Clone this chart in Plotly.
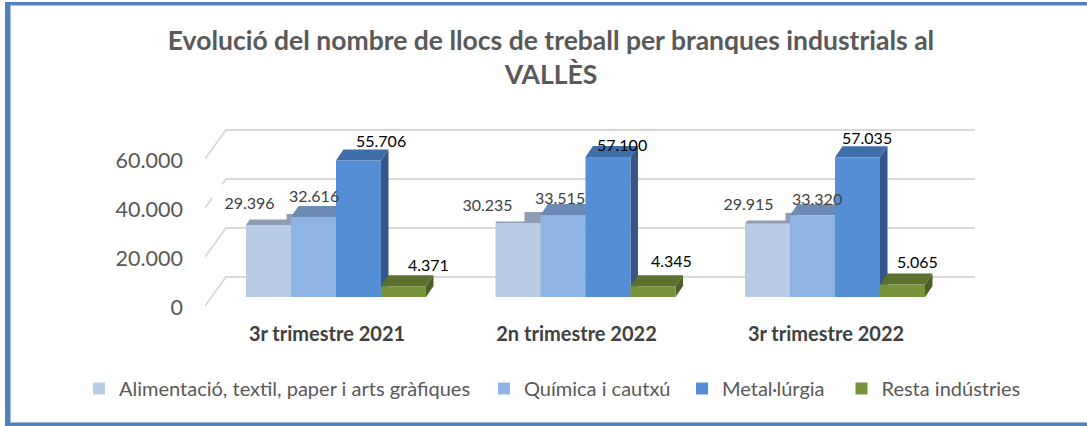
import plotly.graph_objects as go

# --- data ---
categories = ["3r trimestre 2021", "2n trimestre 2022", "3r trimestre 2022"]
alimentacio = [29396, 30235, 29915]
quimica = [32616, 33515, 33320]
metal = [55706, 57100, 57035]
resta = [4371, 4345, 5065]
series_names = ["Alimentació, textil, paper i arts gràfiques", "Química i cautxú", "Metal·lúrgia", "Resta indústries"]
y_ticks = [0, 20000, 40000, 60000]

# --- styling ---
front_colors = ["#B8CCE4", "#8DB4E2", "#558ED5", "#77933C"]
top_colors = ["#8E9DB3", "#6B8BB4", "#3F6EA8", "#5C7030"]
side_colors = ["#8E9DB3", "#6B8BB4", "#34578A", "#4D5F28"]
label_colors = ["#404040", "#404040", "#000000", "#000000"]
FONT = "Lato"
W, H = 1087, 426

# plot-area geometry (pixels)
L, R, T, B = 205, 975, 125, 320
X0, XU = 327.0, 249.5          # pixel of first category, pixels per category
Y0, YU = 306.0, 147.0 / 60000  # pixel of value 0, pixels per unit
xu = lambda px: px / XU
yu = lambda px: px / YU
x_range = [(L - X0) / XU, (R - X0) / XU]
y_range = [(Y0 - B) / YU, (Y0 - T) / YU]
paper_x = lambda px: (px - L) / (R - L)
paper_y = lambda py: 1 - (py - T) / (B - T)

bar_w = 45 / XU
bar_off = [-58.5 / XU, -13.5 / XU, 31.5 / XU, 76.5 / XU]
base = yu(9)                   # bars stand 9 px in front of the floor's front edge
dx, dy = xu(7.5), yu(11)       # depth of a bar
wall_dx, wall_dy = xu(21), yu(29)

# label nudges in pixels (right, up) relative to each bar's top centre
label_dx = [[-19.5, -31, -19.5], [0, -3, 4.5], [22.5, 14, 9.5], [24.5, 18, 14.5]]
label_dy = [[23, 19, 21], [22, 17, 17], [20.5, 13, 20], [22, 26, 23.5]]

values = [alimentacio, quimica, metal, resta]
groups = list(range(len(categories)))

fig = go.Figure()

# back wall and side wall gridlines
gx, gy = [], []
for t in y_ticks:
    gx += [x_range[0], x_range[0] + wall_dx, x_range[1], None]
    gy += [t, t + wall_dy, t + wall_dy, None]
fig.add_trace(go.Scatter(x=gx, y=gy, mode="lines", line=dict(color="#D9D9D9", width=1.8),
                         hoverinfo="skip", showlegend=False))

# top and side faces
for j, vals in enumerate(values):
    tx, ty, sx, sy = [], [], [], []
    for g, v in zip(groups, vals):
        xl = g + bar_off[j] - bar_w / 2
        xr = xl + bar_w
        top = base + v
        tx += [xl, xl + dx, xr + dx, xr, xl, None]
        ty += [top, top + dy, top + dy, top, top, None]
        sx += [xr, xr + dx, xr + dx, xr, xr, None]
        sy += [top, top + dy, base + dy, base, top, None]
    for fx, fy, col in ((sx, sy, side_colors[j]), (tx, ty, top_colors[j])):
        fig.add_trace(go.Scatter(x=fx, y=fy, mode="lines", fill="toself", fillcolor=col,
                                 line=dict(width=0), hoverinfo="skip", showlegend=False))

# front faces, on an overlaid subplot so that they cover the faces behind them
legend_ids = ["legend", "legend2", "legend3", "legend4"]
for j, vals in enumerate(values):
    fig.add_trace(go.Bar(x=[g + bar_off[j] for g in groups], y=vals, base=base, width=bar_w,
                         name=series_names[j], marker=dict(color=front_colors[j], line=dict(width=0)),
                         xaxis="x2", yaxis="y2", legend=legend_ids[j]))

# value labels
fmt = lambda v: f"{v:,}".replace(",", ".")
annotations = []
for j, vals in enumerate(values):
    for g, v in zip(groups, vals):
        kw = dict(bgcolor="#FFFFFF", width=71, height=32) if j == 0 else {}
        annotations.append(dict(x=g + bar_off[j], y=base + v, xref="x", yref="y", text=fmt(v),
                                showarrow=False, xshift=label_dx[j][g], yshift=label_dy[j][g],
                                font=dict(family=FONT, size=16, color=label_colors[j]), **kw))

axis_off = dict(range=x_range, visible=False, fixedrange=True)
legend_common = dict(orientation="h", yanchor="middle", y=paper_y(388.5), xanchor="left",
                     bgcolor="rgba(0,0,0,0)",
                     font=dict(family=FONT, size=20, color="#595959"))
legend_x = [95, 500, 698, 857.5]


def legend_at(px):
    return dict(legend_common, x=paper_x(px - 16))


frame = dict(type="rect", xref="paper", yref="paper", layer="below", line=dict(width=0))


def rect(x0, y0, x1, y1, col):
    return dict(frame, x0=paper_x(x0), x1=paper_x(x1), y0=paper_y(y1), y1=paper_y(y0), fillcolor=col)


fig.update_layout(
    width=W, height=H,
    autosize=False,
    margin=dict(l=L, r=W - R, t=T, b=H - B, pad=0),
    paper_bgcolor="#FFFFFF", plot_bgcolor="rgba(0,0,0,0)",
    barmode="overlay",
    title=dict(text="Evolució del nombre de llocs de treball per branques industrials al<br>VALLÈS",
               x=551 / W, xanchor="center", y=1 - 50 / H, yanchor="middle",
               font=dict(family=FONT, size=26.5, color="#595959", weight="bold")),
    xaxis=dict(range=x_range, tickmode="array", tickvals=groups, ticktext=categories,
               showgrid=False, zeroline=False, showline=False, ticks="", fixedrange=True,
               tickfont=dict(family=FONT, size=20, color="#404040", weight="bold")),
    yaxis=dict(range=y_range, tickmode="array", tickvals=y_ticks,
               ticktext=[fmt(t) for t in y_ticks], showgrid=False, zeroline=False, showline=False,
               ticks="", fixedrange=True, ticklabelstandoff=21, ticklabelshift=1,
               tickfont=dict(family=FONT, size=21.5, color="#595959")),
    xaxis2=dict(axis_off, overlaying="x"),
    yaxis2=dict(range=y_range, visible=False, fixedrange=True, overlaying="y"),
    annotations=annotations,
    shapes=[rect(5, 2, W + 5, H + 5, "#4F81BD"), rect(10, 5, W + 5, 423, "#A3BFE0"),
            rect(11, 6, W + 5, 422, "#FFFFFF")],
    legend=legend_at(legend_x[0]), legend2=legend_at(legend_x[1]),
    legend3=legend_at(legend_x[2]), legend4=legend_at(legend_x[3]),
)

fig.write_html("out.html", config={"displayModeBar": False},
               post_script="document.body.style.margin='0';")
